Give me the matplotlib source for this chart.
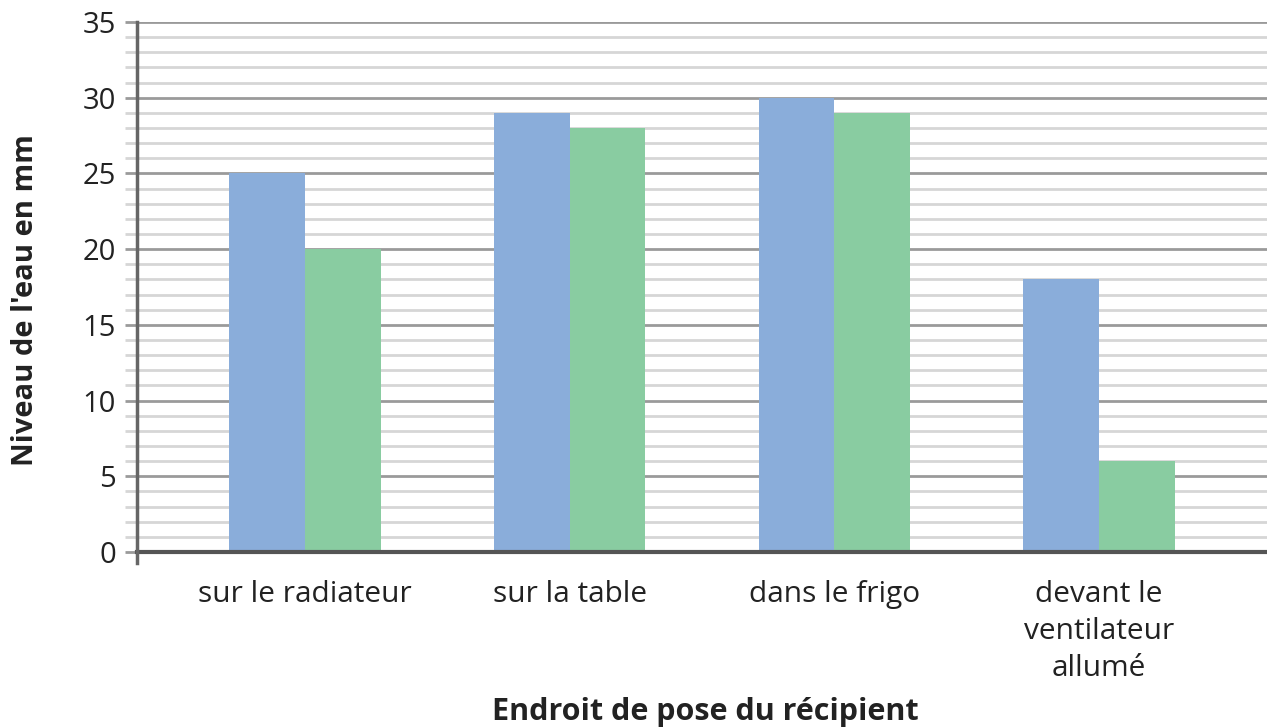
import numpy as np
import matplotlib
matplotlib.use("Agg")
import matplotlib.pyplot as plt
from matplotlib.ticker import MultipleLocator

plt.rcParams['font.family'] = ['Open Sans', 'DejaVu Sans']

# Water level per location, two series
categories = ["sur le radiateur", "sur la table", "dans le frigo", "devant le\nventilateur\nallumé"]
series_a = [25, 29, 30, 18]
series_b = [20, 28, 29, 6]

color_a = "#8AADDA"
color_b = "#89CCA1"

fig = plt.figure(figsize=(12.67, 7.28), dpi=100)
ax = fig.add_axes([137 / 1267, (728 - 552) / 728, 1 - 137 / 1267, (552 - 22) / 728])

x = np.arange(len(categories))
w = 0.286
ax.bar(x - w / 2, series_a, width=w, color=color_a, zorder=3)
ax.bar(x + w / 2, series_b, width=w, color=color_b, zorder=3)

ax.set_xlim(-0.635, 3.635)
ax.set_ylim(0, 35)

# grid: light lines every unit, darker every 5
ax.yaxis.set_major_locator(MultipleLocator(5))
ax.yaxis.set_minor_locator(MultipleLocator(1))
ax.grid(axis='y', which='minor', color='#d6d6d6', linewidth=2, zorder=0)
ax.grid(axis='y', which='major', color='#9a9a9a', linewidth=2, zorder=1)
ax.tick_params(axis='y', which='both', length=9, width=2, color='#d6d6d6',
               labelsize=21, labelcolor='#222222', pad=6)
ax.tick_params(axis='y', which='major', color='#9a9a9a')

ax.set_xticks(x)
ax.set_xticklabels(categories, fontsize=21.5, color='#222222', linespacing=1.38)
ax.tick_params(axis='x', length=0, pad=20)

for side in ['top', 'right']:
    ax.spines[side].set_visible(False)
ax.spines['bottom'].set_color('#555555')
ax.spines['bottom'].set_linewidth(3)
ax.spines['bottom'].set_zorder(4)
ax.spines['left'].set_visible(False)
ax.plot([0, 0], [-0.02, 1.0], transform=ax.transAxes, color='#666666',
        linewidth=2.5, clip_on=False, zorder=5)

ax.set_ylabel("Niveau de l'eau en mm", fontsize=21, fontweight='bold',
              color='#222222', va='center', ha='center')
ax.yaxis.set_label_coords(-0.099, 0.475)
ax.set_xlabel("Endroit de pose du récipient", fontsize=22, fontweight='bold',
              color='#222222', va='center')
ax.xaxis.set_label_coords(0.503, -0.302)

fig.savefig("out.png", dpi=100)
